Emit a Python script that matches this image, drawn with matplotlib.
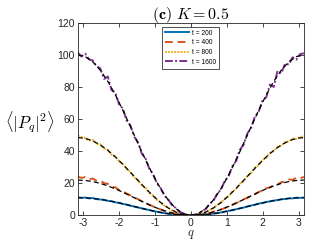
import numpy as np
import matplotlib
matplotlib.use("Agg")
import matplotlib.pyplot as plt

plt.rcParams['mathtext.fontset'] = 'cm'
plt.rcParams['font.family'] = ['Liberation Sans', 'DejaVu Sans']
plt.rcParams['axes.unicode_minus'] = False

# simulation grid (61 points) and theory grid (31 points)
q_data = np.linspace(-np.pi, np.pi, 61)
q_theory = np.linspace(-np.pi, np.pi, 31)

labels = ["t = 200", "t = 400", "t = 800", "t = 1600"]

data_200 = [11.2, 10.9, 11.1, 10.6, 10.8, 10.1, 9.9, 9.7, 9.0, 8.8, 8.1, 7.8, 7.1, 6.7, 6.0, 5.5,
            4.9, 4.4, 3.8, 3.3, 2.7, 2.3, 1.8, 1.4, 1.0, 0.7, 0.5, 0.3, 0.1, 0.0, 0.0,
            0.0, 0.1, 0.3, 0.5, 0.7, 1.1, 1.4, 1.8, 2.3, 2.8, 3.2, 3.8, 4.3, 4.9, 5.5,
            6.1, 6.6, 7.3, 7.7, 8.3, 8.7, 9.2, 9.5, 10.0, 10.2, 10.6, 10.6, 11.0, 10.9, 11.1]
data_400 = [24.0, 23.4, 23.8, 22.6, 22.9, 21.6, 21.5, 20.1, 19.6, 18.0, 17.4, 15.8, 15.0, 13.5, 12.5, 11.1,
            10.1, 8.8, 7.8, 6.6, 5.6, 4.5, 3.7, 2.8, 2.1, 1.5, 0.9, 0.5, 0.2, 0.1, 0.0,
            0.1, 0.3, 0.5, 1.0, 1.4, 2.2, 2.8, 3.7, 4.5, 5.6, 6.5, 7.7, 8.6, 10.0, 10.9,
            12.3, 13.2, 14.6, 15.3, 16.9, 17.4, 18.9, 19.2, 20.7, 20.9, 22.3, 22.2, 23.4, 23.2, 23.9]
data_800 = [49.6, 48.9, 48.2, 46.6, 47.0, 44.5, 44.3, 41.5, 40.9, 37.8, 36.9, 33.5, 32.1, 28.6, 27.2, 23.6,
            22.0, 18.7, 17.1, 14.0, 12.4, 9.7, 8.2, 6.0, 4.8, 3.1, 2.2, 1.1, 0.6, 0.1, 0.0,
            0.2, 0.4, 1.3, 2.0, 3.4, 4.4, 6.4, 7.8, 10.3, 11.8, 14.7, 16.4, 19.6, 21.3, 24.7,
            26.3, 29.8, 31.2, 34.6, 35.8, 39.0, 40.0, 42.8, 43.3, 45.8, 46.0, 47.8, 47.6, 48.9, 49.3]
data_1600 = [101.5, 99.0, 100.8, 97.2, 96.5, 93.0, 91.5, 85.0, 86.5, 78.0, 76.5, 69.0, 66.5, 59.0, 56.0, 49.0,
             45.5, 38.5, 35.5, 29.0, 25.8, 20.0, 17.0, 12.2, 10.0, 6.3, 4.6, 2.2, 1.3, 0.2, 0.0,
             0.4, 0.9, 2.7, 4.0, 7.2, 9.1, 13.5, 16.0, 21.5, 24.2, 30.5, 33.8, 40.8, 44.0, 51.0,
             54.5, 61.5, 64.5, 71.5, 73.5, 81.5, 80.0, 90.0, 88.5, 94.5, 94.0, 98.5, 97.0, 100.5, 101.0]

theory_200 = [11.0, 10.88, 10.52, 9.95, 9.18, 8.25, 7.2, 6.08, 4.92, 3.8, 2.75, 1.82, 1.05, 0.48, 0.12, 0.0,
              0.12, 0.48, 1.05, 1.82, 2.75, 3.8, 4.92, 6.08, 7.2, 8.25, 9.18, 9.95, 10.52, 10.88, 11.0]
theory_400 = [22.0, 21.76, 21.05, 19.9, 18.36, 16.5, 14.4, 12.15, 9.85, 7.6, 5.5, 3.64, 2.1, 0.95, 0.24, 0.0,
              0.24, 0.95, 2.1, 3.64, 5.5, 7.6, 9.85, 12.15, 14.4, 16.5, 18.36, 19.9, 21.05, 21.76, 22.0]
theory_800 = [48.5, 47.97, 46.4, 43.87, 40.48, 36.38, 31.74, 26.79, 21.71, 16.76, 12.13, 8.02, 4.63, 2.1, 0.53, 0.0,
              0.53, 2.1, 4.63, 8.02, 12.13, 16.76, 21.71, 26.79, 31.74, 36.38, 40.48, 43.87, 46.4, 47.97, 48.5]
theory_1600 = [100.0, 98.91, 95.68, 90.45, 83.46, 75.0, 65.45, 55.23, 44.77, 34.55, 25.0, 16.54, 9.55, 4.32, 1.09, 0.0,
               1.09, 4.32, 9.55, 16.54, 25.0, 34.55, 44.77, 55.23, 65.45, 75.0, 83.46, 90.45, 95.68, 98.91, 100.0]

x_ticks = [-3, -2, -1, 0, 1, 2, 3]
y_ticks = [0, 20, 40, 60, 80, 100, 120]

colors = ["#0072BD", "#D95319", "#EDB120", "#7E2F8E"]
styles = ["-", (0, (4, 2.5)), (0, (1, 0.6)), (0, (4, 1.2, 1, 1.2))]

fig = plt.figure(figsize=(3.12, 2.45), dpi=100)
ax = fig.add_axes([0.249, 0.121, 0.725, 0.786])

datas = [data_200, data_400, data_800, data_1600]
theories = [theory_200, theory_400, theory_800, theory_1600]
for d, c, s, lab in zip(datas, colors, styles, labels):
    ax.plot(q_data, d, color=c, linestyle=s, lw=1.4, label=lab)
for th in theories:
    ax.plot(q_theory, th, color="black", linestyle=(0, (4, 2.5)), lw=0.9)

ax.set_xlim(-np.pi, np.pi)
ax.set_ylim(0, 120)
ax.set_xticks(x_ticks)
ax.set_yticks(y_ticks)
ax.tick_params(direction="in", top=True, right=True, length=3, width=0.6,
               labelsize=7.5, colors="#262626", pad=2)
for sp in ax.spines.values():
    sp.set_linewidth(0.6)
    sp.set_color("#262626")

ax.set_title(r"$\mathbf{(c)}\ K = 0.5$", fontsize=11.5, pad=3)
ax.set_xlabel(r"$q$", fontsize=9, labelpad=0, color="#262626")
ax.set_ylabel(r"$\langle |P_q|^2 \rangle$", fontsize=12, rotation=0,
              ha="center", va="center")
ax.yaxis.set_label_coords(-0.21, 0.484)

leg = ax.legend(loc="upper center", bbox_to_anchor=(0.5, 0.98), fontsize=4.8,
                frameon=True, fancybox=False, edgecolor="black", handlelength=3.6,
                borderpad=0.45, labelspacing=0.4, handletextpad=0.4, borderaxespad=0)
leg.get_frame().set_linewidth(0.6)

fig.savefig("out.png", dpi=100)
